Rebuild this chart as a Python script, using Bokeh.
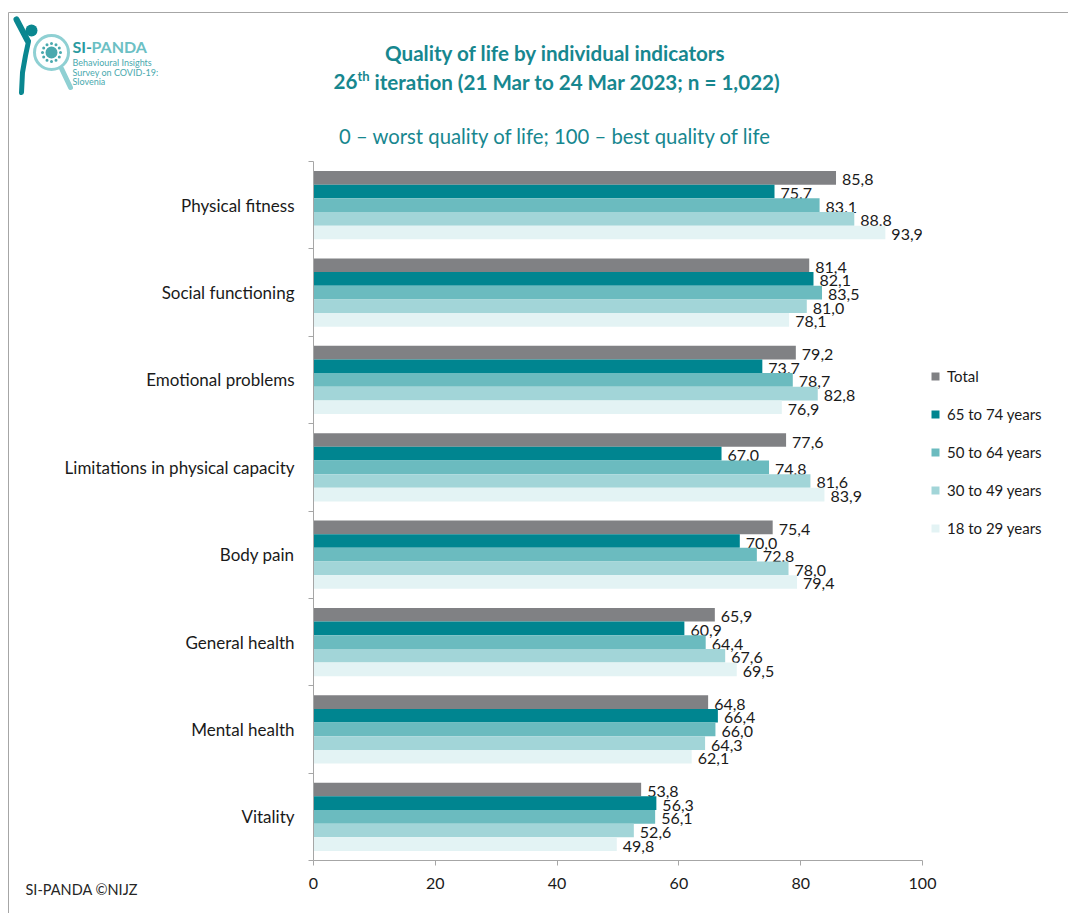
import math
from bokeh.plotting import figure
from bokeh.layouts import column, row
from bokeh.models import (Range1d, FixedTicker, Label, Legend, LegendItem, ColumnDataSource, Spacer)
from bokeh.core.properties import value
from bokeh.embed import file_html
from bokeh.resources import INLINE

categories = ["Physical fitness", "Social functioning", "Emotional problems",
              "Limitations in physical capacity", "Body pain", "General health",
              "Mental health", "Vitality"]
series_names = ["Total", "65 to 74 years", "50 to 64 years", "30 to 49 years", "18 to 29 years"]
total = [85.8, 81.4, 79.2, 77.6, 75.4, 65.9, 64.8, 53.8]
age_65_74 = [75.7, 82.1, 73.7, 67.0, 70.0, 60.9, 66.4, 56.3]
age_50_64 = [83.1, 83.5, 78.7, 74.8, 72.8, 64.4, 66.0, 56.1]
age_30_49 = [88.8, 81.0, 82.8, 81.6, 78.0, 67.6, 64.3, 52.6]
age_18_29 = [93.9, 78.1, 76.9, 83.9, 79.4, 69.5, 62.1, 49.8]
x_ticks = [0, 20, 40, 60, 80, 100]

series = [total, age_65_74, age_50_64, age_30_49, age_18_29]
colors = ["#808184", "#008590", "#6bbbbf", "#a2d5d8", "#e3f3f4"]

FONT = "Lato"
TEAL = "#17878f"
BORDER = "#a6a6a6"
W, H = 1068, 913
HEAD_H = 161
GUT = 9                      # page x where the main figure's canvas starts
FL, FR, FB = 313, 921, 860   # frame edges in page pixels
MAIN_H = H - HEAD_H

# ---------------- header (titles, logo) ----------------
h = figure(width=W, height=HEAD_H, output_backend="svg", toolbar_location=None,
           x_range=Range1d(0, W), y_range=Range1d(HEAD_H, 0),
           x_axis_type=None, y_axis_type=None, min_border=0)
h.outline_line_color = None
h.xgrid.visible = False
h.ygrid.visible = False
h.border_fill_color = "white"
h.background_fill_color = "white"

def htext(t, x, y, size, color, style="normal", align="center"):
    h.text(x=[x], y=[y], text=[t], text_font=value(FONT), text_font_size=size,
           text_color=color, text_font_style=style, text_align=align, text_baseline="middle")

# border lines (top and left) of the header part
h.segment(x0=[8, 8], y0=[12, 12], x1=[W, 8], y1=[12, HEAD_H], line_color=BORDER, line_width=1)

htext("Quality of life by individual indicators", 555, 52, "20.6px", TEAL, "bold")
htext("26", 333, 81, "20.6px", TEAL, "bold", "left")
htext("th", 357, 75, "13px", TEAL, "bold", "left")
htext("iteration (21 Mar to 24 Mar 2023; n = 1,022)", 374, 81, "20.6px", TEAL, "bold", "left")
htext("0 \u2013 worst quality of life; 100 \u2013 best quality of life", 555, 135, "20.3px", TEAL)

# logo
htext("SI-", 72, 46, "16px", "#2a9aa0", "bold", "left")
htext("PANDA", 91, 46, "16px", "#6cc0c4", "bold", "left")
htext("Behavioural Insights", 72, 62, "9px", "#4aa9ae", align="left")
htext("Survey on COVID-19:", 72, 72, "9px", "#4aa9ae", align="left")
htext("Slovenia", 72, 81, "9px", "#4aa9ae", align="left")
h.line(x=[61, 70], y=[68, 87], line_color="#8fd0d3", line_width=5, line_cap="round")
h.scatter(x=[51], y=[52], size=34, marker="circle", fill_color="white",
          line_color="#8fd0d3", line_width=3)
h.scatter(x=[51], y=[52], size=12, marker="circle", fill_color="#4aa9ae", line_color=None)
dots = [(51 + 9 * math.cos(2 * math.pi * k / 12), 52 + 9 * math.sin(2 * math.pi * k / 12)) for k in range(12)]
h.scatter(x=[d[0] for d in dots], y=[d[1] for d in dots], size=3, marker="circle",
          fill_color="#4aa9ae", line_color=None)
h.scatter(x=[31], y=[30], size=12, marker="circle", fill_color="#0a8790", line_color=None)
h.line(x=[16, 27], y=[19, 40], line_color="#0a8790", line_width=6, line_cap="round")
h.line(x=[28, 25, 22, 21], y=[41, 55, 72, 92], line_color="#0a8790", line_width=5, line_cap="round")

# ---------------- main chart ----------------
p = figure(width=W - GUT, height=MAIN_H, output_backend="svg", toolbar_location=None,
           x_range=Range1d(0, 100), y_range=Range1d(len(categories) - 0.5, -0.5),
           min_border_left=FL - GUT, min_border_right=W - FR, min_border_top=0,
           min_border_bottom=H - FB, frame_width=FR - FL, frame_height=FB - HEAD_H)
p.outline_line_color = None
p.xgrid.visible = False
p.ygrid.visible = False
p.background_fill_color = "white"
p.border_fill_color = "white"
p.styles = {"border-left": f"1px solid {BORDER}"}

group = 0.78
bh = group / len(series)
renderers = []
for j, (vals, col) in enumerate(zip(series, colors)):
    ys = [i - group / 2 + bh / 2 + j * bh for i in range(len(categories))]
    src = ColumnDataSource(dict(y=ys, v=vals,
                                lab=[f"{v:.1f}".replace(".", ",") for v in vals]))
    r = p.hbar(y="y", left=0, right="v", height=bh, source=src,
               fill_color=col, line_color=None)
    renderers.append(r)
    p.text(x="v", y="y", text="lab", source=src, x_offset=6, y_offset=2,
           text_font=value(FONT), text_font_size="16px", text_color="#1a1a1a",
           text_baseline="middle", text_align="left")

p.xaxis.ticker = FixedTicker(ticks=x_ticks)
p.xaxis.axis_line_color = BORDER
p.xaxis.major_tick_line_color = BORDER
p.xaxis.major_tick_out = 5
p.xaxis.major_tick_in = 0
p.xaxis.minor_tick_line_color = None
p.xaxis.major_label_text_font = FONT
p.xaxis.major_label_text_font_size = "16px"
p.xaxis.major_label_text_color = "#1a1a1a"
p.xaxis.major_label_standoff = 12

p.yaxis.ticker = FixedTicker(ticks=list(range(len(categories))),
                             minor_ticks=[i - 0.5 for i in range(len(categories) + 1)])
p.yaxis.major_label_overrides = {i: c for i, c in enumerate(categories)}
p.yaxis.axis_line_color = BORDER
p.yaxis.major_tick_line_color = None
p.yaxis.major_tick_out = 0
p.yaxis.major_tick_in = 0
p.yaxis.minor_tick_line_color = BORDER
p.yaxis.minor_tick_out = 5
p.yaxis.minor_tick_in = 0
p.yaxis.major_label_text_font = FONT
p.yaxis.major_label_text_font_size = "17px"
p.yaxis.major_label_text_color = "#1a1a1a"
p.yaxis.major_label_standoff = 14

legend = Legend(items=[LegendItem(label=n, renderers=[r]) for n, r in zip(series_names, renderers)],
                location=(8, 322), orientation="vertical",
                glyph_width=10, glyph_height=10, label_height=20, spacing=18,
                label_standoff=7, padding=0, margin=0,
                border_line_color=None, background_fill_alpha=0,
                label_text_font=FONT, label_text_font_size="15px", label_text_color="#1a1a1a")
p.add_layout(legend, "right")

p.add_layout(Label(x=25 - FL, y=19, x_units="screen", y_units="screen",
                   text="SI-PANDA \u00a9NIJZ", text_font=FONT, text_font_size="14.5px",
                   text_color="#262626", text_align="left", text_baseline="middle"), "below")

layout = column(h, row(Spacer(width=GUT - 1, height=MAIN_H), p))
open("out.html", "w").write(file_html(layout, INLINE))
